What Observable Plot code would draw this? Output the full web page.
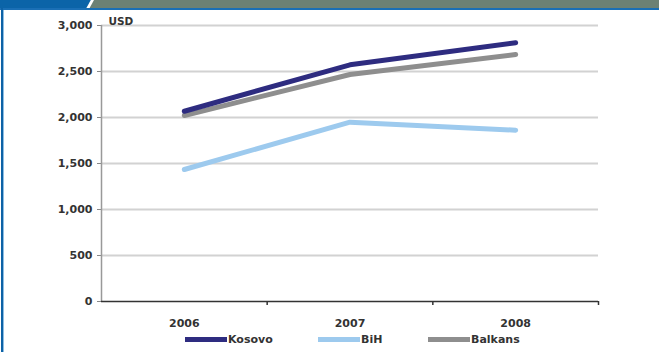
<!DOCTYPE html>
<html>
<head>
<meta charset="utf-8">
<script src="https://cdn.jsdelivr.net/npm/d3@7"></script>
<script src="https://cdn.jsdelivr.net/npm/@observablehq/plot@0.6"></script>
<style>
  html, body { margin: 0; padding: 0; background: #fff; }
  #frame { position: relative; width: 659px; height: 352px; overflow: hidden; background: #fff;
           font-family: "DejaVu Sans", sans-serif; }
  #band { position: absolute; left: 0; top: 0; width: 659px; height: 8px; background: #6c8174; }
  #tab { position: absolute; left: 0; top: 0; width: 92px; height: 8px; background: #0b64a8;
         clip-path: polygon(0 0, 100% 0, 94% 100%, 0 100%); }
  #slash { position: absolute; left: 86px; top: 0; width: 8px; height: 8px; background: #fff;
           clip-path: polygon(60% 0, 100% 0, 45% 100%, 5% 100%); }
  #rule { position: absolute; left: 0; top: 8px; width: 659px; height: 2px; background: #1a6fb5; }
  #edge { position: absolute; left: 1px; top: 8px; width: 2px; height: 344px; background: #0d62a6; }
  #edge2 { position: absolute; left: 3px; top: 10px; width: 1px; height: 342px; background: #8fbfe3; }
  #chart { position: absolute; left: 0; top: 0; }
  #legend { position: absolute; top: 332px; left: 0; width: 659px; height: 16px;
            font: bold 11px "DejaVu Sans", sans-serif; color: #333; }
  .item { position: absolute; top: 0; display: flex; align-items: center; height: 14px; }
  .sw { width: 42px; height: 5px; margin-right: 1px; }
</style>
</head>
<body>
<div id="frame">
  <div id="band"></div>
  <div id="tab"></div>
  <div id="slash"></div>
  <div id="rule"></div>
  <div id="edge"></div>
  <div id="edge2"></div>
  <div id="chart"></div>
  <div id="legend"></div>
</div>
<script>
// Average wage, USD
const years = [2006, 2007, 2008];
const kosovo = [2068, 2573, 2812];
const bih = [1435, 1949, 1862];
const balkans = [2022, 2467, 2685];

const seriesNames = ["Kosovo", "BiH", "Balkans"];
const seriesColors = ["#2e2c80", "#9dcaee", "#8e8e8e"];
const yTicks = [0, 500, 1000, 1500, 2000, 2500, 3000];

const rows = [
  ...years.map((year, i) => ({year, value: kosovo[i], series: "Kosovo"})),
  ...years.map((year, i) => ({year, value: bih[i], series: "BiH"})),
  ...years.map((year, i) => ({year, value: balkans[i], series: "Balkans"}))
];
// draw Balkans first so the Kosovo line sits above it
const drawOrder = ["Balkans", "BiH", "Kosovo"];

const chart = Plot.plot({
  width: 659,
  height: 332,
  marginLeft: 101,
  marginRight: 61,
  marginTop: 25,
  marginBottom: 31,
  style: {fontFamily: "DejaVu Sans, sans-serif", fontSize: "11px", fontWeight: "bold", color: "#333", background: "transparent"},
  x: {type: "linear", domain: [2005.5, 2008.5]},
  y: {domain: [0, 3000]},
  color: {domain: seriesNames, range: seriesColors},
  marks: [
    Plot.gridY(yTicks.slice(1), {stroke: "#d2d2d2", strokeOpacity: 1, strokeWidth: 2}),
    // category boundary ticks below the axis line
    Plot.axisX([2006.5, 2007.5, 2008.5], {tickSize: 4, tickFormat: () => "", stroke: "#333", strokeWidth: 1.5, label: null}),
    // year labels centred in each category
    Plot.axisX(years, {tickSize: 0, tickPadding: 18, tickFormat: d => String(d), label: null, fill: "#333"}),
    Plot.axisY(yTicks, {tickSize: 4, tickPadding: 5, tickFormat: d3.format(","), stroke: "#888", label: null, fill: "#333"}),
    Plot.ruleX([2005.5], {y1: 0, y2: 3000, stroke: "#999", strokeWidth: 1.5}),
    Plot.ruleY([0], {stroke: "#333", strokeWidth: 1.5}),
    ...drawOrder.map(name => Plot.line(rows.filter(d => d.series === name), {
      x: "year", y: "value", stroke: "series", strokeWidth: 5, strokeLinejoin: "round"
    })),
    Plot.text(["USD"], {frameAnchor: "top-left", dx: 7, dy: -8, textAnchor: "start", fill: "#333", fontSize: 10.5})
  ]
});
document.getElementById("chart").appendChild(chart);

// legend below the plot
const legendX = [185, 318, 428];
const legend = document.getElementById("legend");
seriesNames.forEach((name, i) => {
  const item = document.createElement("div");
  item.className = "item";
  item.style.left = legendX[i] + "px";
  const sw = document.createElement("span");
  sw.className = "sw";
  sw.style.background = seriesColors[i];
  const label = document.createElement("span");
  label.textContent = name;
  item.appendChild(sw);
  item.appendChild(label);
  legend.appendChild(item);
});
</script>
</body>
</html>
